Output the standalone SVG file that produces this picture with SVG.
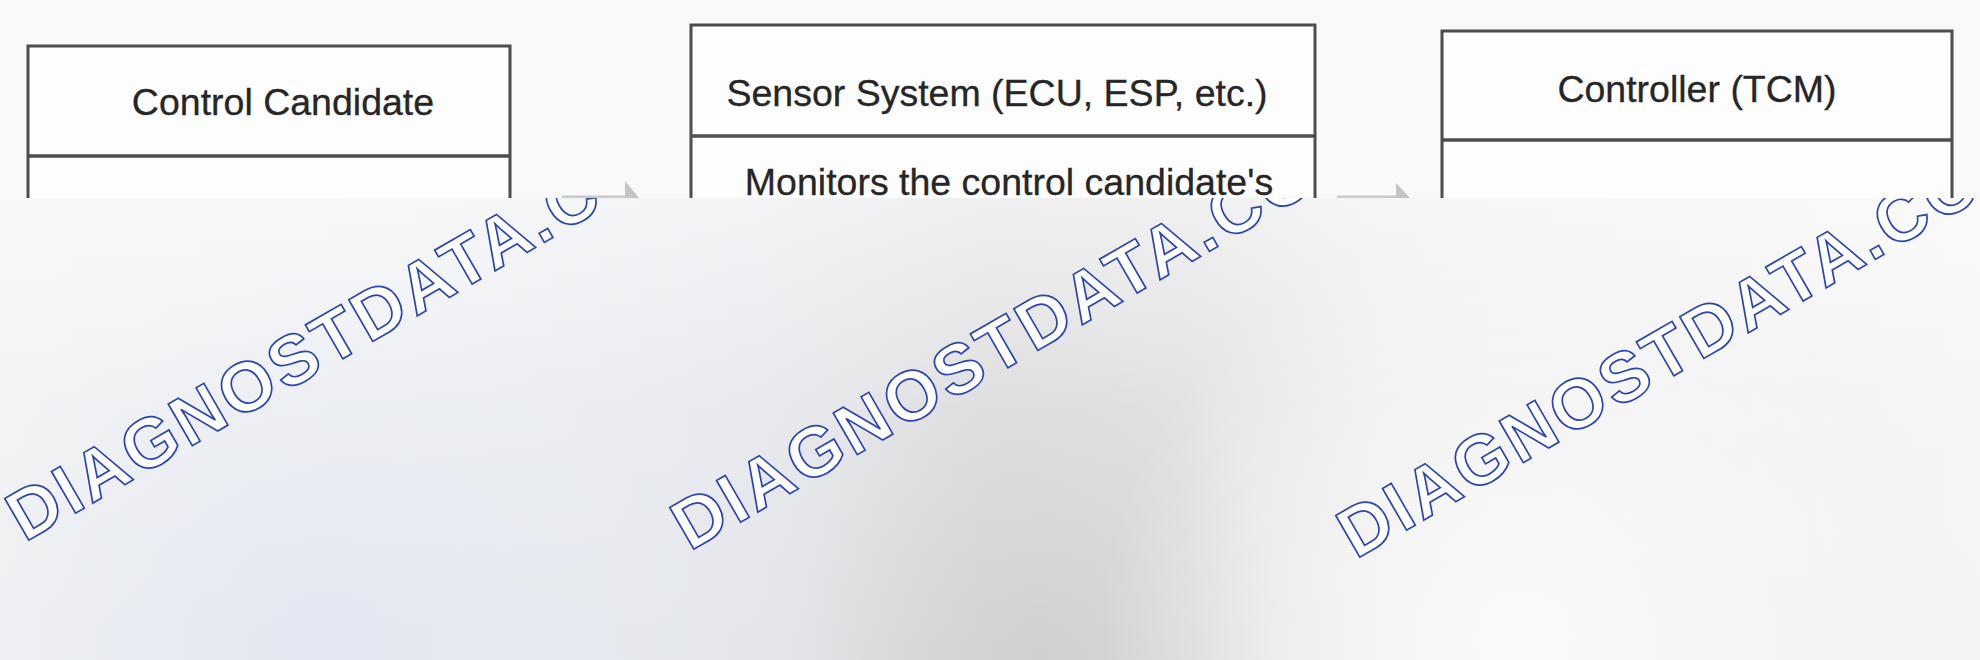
<svg xmlns="http://www.w3.org/2000/svg" width="1980" height="660" viewBox="0 0 1980 660">
  <style>
    .box { fill: #fdfdfd; stroke: #4d4d4d; stroke-width: 3; }
    .div { stroke: #4d4d4d; stroke-width: 3.5; }
    .lbl { font-family: "Liberation Sans", Arial, sans-serif; font-size: 37.5px; fill: #262626; stroke: #262626; stroke-width: 0.3; text-anchor: middle; }
    .conn { stroke: #cacaca; stroke-width: 3; fill: none; }
    .head { fill: #c4c4c4; }
    .wm { font-family: "Liberation Sans", Arial, sans-serif; font-weight: bold; font-size: 70px; letter-spacing: 3.5px; fill: #ffffff; stroke: #2a45b2; stroke-width: 1.7; }
  </style>
  <defs>
    <linearGradient id="gH" x1="0" y1="0" x2="1" y2="0">
      <stop offset="0" stop-color="#f0f1f3"/>
      <stop offset="0.2" stop-color="#eceef2"/>
      <stop offset="0.38" stop-color="#e4e6eb"/>
      <stop offset="0.5" stop-color="#dcdcdd"/>
      <stop offset="0.6" stop-color="#dedede"/>
      <stop offset="0.7" stop-color="#ebebeb"/>
      <stop offset="1" stop-color="#f4f4f4"/>
    </linearGradient>
    <linearGradient id="gV" x1="0" y1="0" x2="0" y2="1">
      <stop offset="0" stop-color="#ffffff" stop-opacity="0.55"/>
      <stop offset="0.45" stop-color="#ffffff" stop-opacity="0.15"/>
      <stop offset="1" stop-color="#ffffff" stop-opacity="0"/>
    </linearGradient>
    <radialGradient id="gW" cx="1520" cy="640" r="420" gradientUnits="userSpaceOnUse">
      <stop offset="0" stop-color="#fafafa" stop-opacity="1"/>
      <stop offset="1" stop-color="#fafafa" stop-opacity="0"/>
    </radialGradient>
    <radialGradient id="gB" cx="330" cy="640" r="380" gradientUnits="userSpaceOnUse">
      <stop offset="0" stop-color="#e2e7f1" stop-opacity="1"/>
      <stop offset="1" stop-color="#e2e7f1" stop-opacity="0"/>
    </radialGradient>
    <radialGradient id="gD" cx="1040" cy="660" r="300" gradientUnits="userSpaceOnUse" gradientTransform="translate(1040 660) scale(0.8 1.2) translate(-1040 -660)">
      <stop offset="0" stop-color="#d0d0d0" stop-opacity="1"/>
      <stop offset="1" stop-color="#d0d0d0" stop-opacity="0"/>
    </radialGradient>
    <clipPath id="clipO">
      <rect x="0" y="198" width="1980" height="462"/>
    </clipPath>
  </defs>

  <rect x="0" y="0" width="1980" height="660" fill="#f9f9f9"/>

  <g id="node-control-candidate">
    <rect class="box" x="28" y="46" width="482" height="580"/>
    <line class="div" x1="28" y1="156" x2="510" y2="156"/>
    <text class="lbl" x="283" y="115">Control Candidate</text>
  </g>

  <g id="node-sensor-system">
    <rect class="box" x="691" y="25" width="624" height="600"/>
    <line class="div" x1="691" y1="136" x2="1315" y2="136"/>
    <text class="lbl" x="997" y="106">Sensor System (ECU, ESP, etc.)</text>
    <text class="lbl" x="1009" y="195">Monitors the control candidate's</text>
  </g>

  <g id="node-controller">
    <rect class="box" x="1442" y="31" width="510" height="600"/>
    <line class="div" x1="1442" y1="140" x2="1952" y2="140"/>
    <text class="lbl" x="1697" y="102">Controller (TCM)</text>
  </g>

  <g id="connectors">
    <line class="conn" x1="562" y1="197" x2="628" y2="197"/>
    <polygon class="head" points="639,198 625,181 625,215"/>
    <line class="conn" x1="1337" y1="197" x2="1399" y2="197"/>
    <polygon class="head" points="1410,198 1396,183 1396,215"/>
  </g>

  <g id="overlay">
    <rect x="0" y="198" width="1980" height="462" fill="url(#gH)"/>
    <rect x="0" y="198" width="1980" height="462" fill="url(#gD)"/>
    <rect x="0" y="198" width="1980" height="462" fill="url(#gB)"/>
    <rect x="0" y="198" width="1980" height="462" fill="url(#gW)"/>
    <rect x="0" y="198" width="1980" height="462" fill="url(#gV)"/>
    <g clip-path="url(#clipO)">
      <text class="wm" x="-5" transform="translate(29,540) rotate(-30)">DIAGNOSTDATA.CO</text>
      <text class="wm" x="-5" transform="translate(694,549) rotate(-30)">DIAGNOSTDATA.CO</text>
      <text class="wm" x="-5" transform="translate(1360,557) rotate(-30)">DIAGNOSTDATA.CO</text>
    </g>
  </g>
</svg>
